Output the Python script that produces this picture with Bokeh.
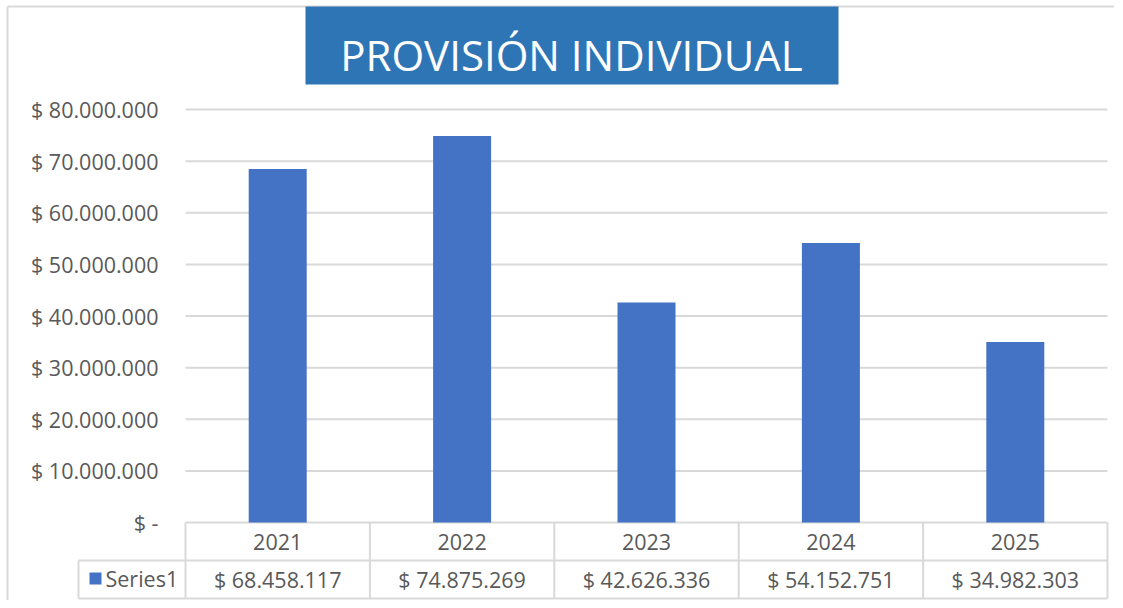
from bokeh.plotting import figure
from bokeh.models import Range1d
from bokeh.core.properties import value
from bokeh.embed import file_html
from bokeh.resources import INLINE

# ---------------- data ----------------
title_text = "PROVISIÓN INDIVIDUAL"
series_name = "Series1"
years = ["2021", "2022", "2023", "2024", "2025"]
values = [68458117, 74875269, 42626336, 54152751, 34982303]
value_labels = ["$ 68.458.117", "$ 74.875.269", "$ 42.626.336", "$ 54.152.751", "$ 34.982.303"]
y_ticks = [0, 10000000, 20000000, 30000000, 40000000, 50000000, 60000000, 70000000, 80000000]
y_tick_labels = ["$ -", "$ 10.000.000", "$ 20.000.000", "$ 30.000.000", "$ 40.000.000",
                 "$ 50.000.000", "$ 60.000.000", "$ 70.000.000", "$ 80.000.000"]

# ---------------- layout (picture pixels) ----------------
ORIGIN = 0          # canvas origin observed in the picture
W, H = 1114, 600
plot_left_px, plot_right_px = 185, 1107
zero_px, top_px = 522, 109
ncat = len(years)
xs = (plot_right_px - plot_left_px) / ncat       # px per category
ys = (zero_px - top_px) / y_ticks[-1]             # px per unit


def px_x(px):
    return (px - plot_left_px) / xs


def px_y(py):
    return (zero_px - py) / ys


BAR = "#4472C4"
TITLE_BG = "#2E75B6"
GRID = "#D9D9D9"
TXT = "#595959"
FONT = value("Open Sans")
FS = "21.5px"

p = figure(width=W, height=H, output_backend="svg", toolbar_location=None,
           x_range=Range1d(px_x(ORIGIN), px_x(ORIGIN + W)),
           y_range=Range1d(px_y(ORIGIN + H), px_y(ORIGIN)),
           min_border=0)
p.axis.visible = False
p.grid.visible = False
p.outline_line_color = None
p.background_fill_color = "white"
p.border_fill_color = "white"

centers = [i + 0.5 for i in range(ncat)]

# chart-area border (left, top)
p.segment(x0=[px_x(7), px_x(7)], y0=[px_y(6), px_y(6)],
          x1=[px_x(7), px_x(W)], y1=[px_y(H), px_y(6)],
          line_color=GRID, line_width=2)

# gridlines
p.segment(x0=[0] * len(y_ticks), x1=[ncat] * len(y_ticks), y0=y_ticks, y1=y_ticks,
          line_color=GRID, line_width=2)

# bars
p.vbar(x=centers, top=values, bottom=0, width=58 / xs, fill_color=BAR, line_color=None)

# y tick labels
p.text(x=[0] * len(y_ticks), y=y_ticks, text=y_tick_labels, x_offset=-27,
       text_align="right", text_baseline="middle", text_font=FONT,
       text_font_size=FS, text_color=TXT)

# data table
row1_bottom = px_y(560)
row2_bottom = px_y(598)
legend_left = px_x(78)
p.segment(x0=[legend_left, legend_left], x1=[ncat, ncat], y0=[row1_bottom, row2_bottom],
          y1=[row1_bottom, row2_bottom], line_color=GRID, line_width=2)
p.segment(x0=list(range(ncat + 1)), x1=list(range(ncat + 1)), y0=[0] * (ncat + 1),
          y1=[row2_bottom] * (ncat + 1), line_color=GRID, line_width=2)
p.segment(x0=[legend_left], x1=[legend_left], y0=[row1_bottom], y1=[row2_bottom],
          line_color=GRID, line_width=2)

p.text(x=centers, y=[row1_bottom / 2] * ncat, text=years, text_align="center",
       text_baseline="middle", text_font=FONT, text_font_size=FS, text_color=TXT)
p.text(x=centers, y=[(row1_bottom + row2_bottom) / 2] * ncat, text=value_labels,
       text_align="center", text_baseline="middle", text_font=FONT,
       text_font_size=FS, text_color=TXT)

# legend key
p.scatter(x=[px_x(95)], y=[px_y(578)], marker="square", size=12, fill_color=BAR,
          line_color=None)
p.text(x=[px_x(105)], y=[px_y(578)], text=[series_name], text_align="left",
       text_baseline="middle", text_font=FONT, text_font_size=FS, text_color=TXT)

# title box
p.quad(left=[px_x(305)], right=[px_x(838)], top=[px_y(6)], bottom=[px_y(84)],
       fill_color=TITLE_BG, line_color=None)
p.text(x=[px_x(571)], y=[px_y(54)], text=[title_text], text_align="center",
       text_baseline="middle", text_font=FONT, text_font_size="42px",
       text_color="white")

open("out.html", "w").write(file_html(p, INLINE))
